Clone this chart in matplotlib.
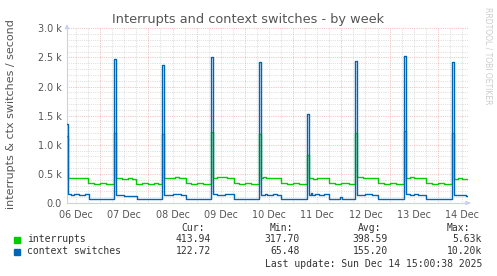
import matplotlib
matplotlib.use("Agg")
import matplotlib.pyplot as plt
import numpy as np

W, H = 497, 276

# hours since 06 Dec 00:00, step values (30 min samples)
int_hours = [7.5, 8.0, 10.0, 11.0, 13.0, 14.5, 16.0, 18.0, 21.0, 24.0, 27.0,
             31.0, 32.0, 35.0, 38.0, 40.0, 42.0, 45.0, 48.0, 51.0, 53.0,
             55.0, 56.0, 58.0, 61.0, 63.0, 64.5, 66.5, 69.0, 72.0, 75.0,
             79.0, 80.0, 82.0, 85.0, 87.0, 88.5, 90.5, 93.0, 96.0, 99.0,
             103.0, 104.0, 105.0, 106.5, 109.0, 112.0, 114.0, 117.0, 120.0, 123.0,
             127.0, 128.0, 130.0, 132.0, 134.0, 138.0, 141.0, 144.0, 145.5, 148.0,
             151.0, 152.0, 155.0, 158.0, 162.0, 165.0, 168.0, 171.0,
             175.0, 176.0, 178.0, 180.0, 183.0, 186.0, 189.0, 192.0, 195.0,
             199.0, 200.0, 202.0, 204.0, 206.0, 207.0]
int_vals = [1150, 428, 434, 426, 432, 425, 430, 336, 332, 337, 334,
            1200, 422, 418, 424, 419, 333, 336, 331, 337, 333,
            1180, 425, 430, 442, 436, 428, 335, 331, 337, 333,
            1220, 432, 438, 445, 436, 430, 336, 332, 338, 334,
            1190, 428, 442, 430, 434, 428, 337, 333, 339, 334,
            820, 425, 420, 428, 422, 338, 334, 348, 336, 333,
            1200, 438, 432, 428, 336, 332, 338, 334,
            1230, 430, 440, 432, 428, 337, 333, 338, 334,
            1200, 420, 428, 418, 414, 414]

ctx_hours = [7.5, 8.0, 9.5, 11.0, 12.0, 13.5, 15.0, 16.5, 18.5, 20.0, 22.0, 23.0, 26.0, 28.0,
             31.0, 32.0, 34.0, 36.0, 39.0, 42.5, 45.0, 47.0, 50.0, 53.0,
             55.0, 56.0, 58.0, 60.0, 61.5, 64.0, 66.5, 69.0, 71.0, 74.0, 77.0,
             79.0, 80.0, 82.0, 84.0, 86.0, 87.5, 90.5, 93.0, 95.0, 98.0, 101.0,
             103.0, 104.0, 106.0, 107.0, 110.0, 112.0, 114.0, 117.0, 119.0, 122.0, 125.0,
             127.0, 128.0, 129.0, 129.5, 131.0, 133.0, 135.5, 138.0, 141.0, 143.5, 144.5, 147.0, 149.0,
             151.0, 152.0, 154.0, 156.0, 159.0, 162.0, 165.0, 167.0, 170.0, 173.0,
             175.0, 176.0, 178.0, 180.0, 182.0, 184.0, 186.0, 188.0, 190.0, 193.0, 196.0,
             199.0, 200.0, 201.5, 203.0, 204.5, 206.0, 207.0]
ctx_vals = [1350, 150, 142, 146, 158, 145, 140, 146, 72, 68, 76, 70, 74, 69,
            2480, 140, 132, 125, 128, 70, 74, 68, 72, 69,
            2370, 138, 142, 160, 146, 140, 72, 68, 75, 70, 73,
            2510, 150, 145, 140, 158, 146, 72, 76, 69, 73, 70,
            2420, 145, 160, 142, 148, 140, 71, 75, 68, 73, 69,
            1520, 140, 175, 142, 150, 138, 146, 74, 70, 95, 72, 75, 69,
            2440, 145, 140, 148, 140, 72, 68, 75, 70, 73,
            2530, 148, 142, 150, 140, 145, 72, 69, 75, 70, 74,
            2420, 140, 132, 145, 135, 123, 123]

day_labels = ["06 Dec", "07 Dec", "08 Dec", "09 Dec", "10 Dec",
              "11 Dec", "12 Dec", "13 Dec", "14 Dec"]
y_ticks = [0, 500, 1000, 1500, 2000, 2500, 3000]
y_labels = ["0.0", "0.5 k", "1.0 k", "1.5 k", "2.0 k", "2.5 k", "3.0 k"]

series_names = ["interrupts", "context switches"]
cur = ["413.94", "122.72"]
mins = ["317.70", "65.48"]
avgs = ["398.59", "155.20"]
maxs = ["5.63k", "10.20k"]
colors = ["#00cc00", "#0066b3"]

fig = plt.figure(figsize=(W / 100, H / 100), dpi=100)
fig.patch.set_facecolor("white")
x0, x1, ytop, ybot = 67, 468, 28.3, 203
ax = fig.add_axes([x0 / W, 1 - ybot / H, (x1 - x0) / W, (ybot - ytop) / H])
ax.set_xlim(7.5, 207)
ax.set_ylim(0, 3000)

# grid
minor_c, major_c = "#c4c4c4", "#e89090"
dots = (0, (0.8, 1.6))
for y in range(100, 3001, 100):
    if y % 500:
        ax.axhline(y, color=minor_c, lw=0.55, ls=dots, zorder=0)
for h in range(12, 207, 6):
    if h % 24:
        ax.axvline(h, color=minor_c, lw=0.55, ls=dots, zorder=0)
for y in range(500, 3001, 500):
    ax.axhline(y, color=major_c, lw=0.55, ls=dots, zorder=0)
for h in range(24, 207, 24):
    ax.axvline(h, color=major_c, lw=0.55, ls=dots, zorder=0)

ax.plot(int_hours, int_vals, drawstyle="steps-post", color=colors[0], lw=1.0, zorder=3)
ax.plot(ctx_hours, ctx_vals, drawstyle="steps-post", color=colors[1], lw=1.0, zorder=4)

for s in ["top", "right"]:
    ax.spines[s].set_visible(False)
for s in ["left", "bottom"]:
    ax.spines[s].set_color("#c8d0f4")
    ax.spines[s].set_linewidth(0.8)
ax.annotate("", xy=(1.013, 0), xytext=(0.995, 0), xycoords="axes fraction",
            arrowprops=dict(arrowstyle="-|>", color="#c8d0f4", lw=0.8, mutation_scale=6),
            annotation_clip=False)
ax.annotate("", xy=(0, 1.04), xytext=(0, 0.99), xycoords="axes fraction",
            arrowprops=dict(arrowstyle="-|>", color="#c8d0f4", lw=0.8, mutation_scale=6),
            annotation_clip=False)

ax.set_xticks([12 + 24 * i for i in range(len(day_labels))])
ax.set_xticklabels(day_labels)
ax.set_yticks(y_ticks)
ax.set_yticklabels(y_labels)
ax.tick_params(length=0, labelsize=6.9, colors="#555555", pad=4)
ax.tick_params(axis="x", pad=5)

def px(x, y):
    return x / W, 1 - y / H

fig.text(*px(248, 19), "Interrupts and context switches - by week", ha="center", va="center",
         fontsize=9.3, color="#555555")
fig.text(*px(11, 114), "interrupts & ctx switches / second", rotation=90, ha="center",
         va="center", fontsize=8, color="#555555")
fig.text(*px(488, 56), "RRDTOOL / TOBI OETIKER", rotation=270, ha="center", va="center",
         fontsize=5.5, color="#cccccc")

mono = dict(family="DejaVu Sans Mono", fontsize=7, color="#333333", va="center")
fig.text(*px(181, 228), "Cur:", ha="left", **mono)
fig.text(*px(270, 228), "Min:", ha="left", **mono)
fig.text(*px(358, 228), "Avg:", ha="left", **mono)
fig.text(*px(447, 228), "Max:", ha="left", **mono)
for i, name in enumerate(series_names):
    yy = 239.5 + 12 * i
    fig.patches.append(plt.Rectangle(px(14, yy + 3), 6 / W, 6 / H, transform=fig.transFigure,
                                     color=colors[i], figure=fig))
    fig.text(*px(27, yy), name, ha="left", **mono)
    fig.text(*px(211, yy), cur[i], ha="right", **mono)
    fig.text(*px(300, yy), mins[i], ha="right", **mono)
    fig.text(*px(388, yy), avgs[i], ha="right", **mono)
    fig.text(*px(482, yy), maxs[i], ha="right", **mono)
fig.text(*px(482, 264), "Last update: Sun Dec 14 15:00:38 2025", ha="right", **mono)

fig.savefig("out.png", dpi=100, facecolor="white")
